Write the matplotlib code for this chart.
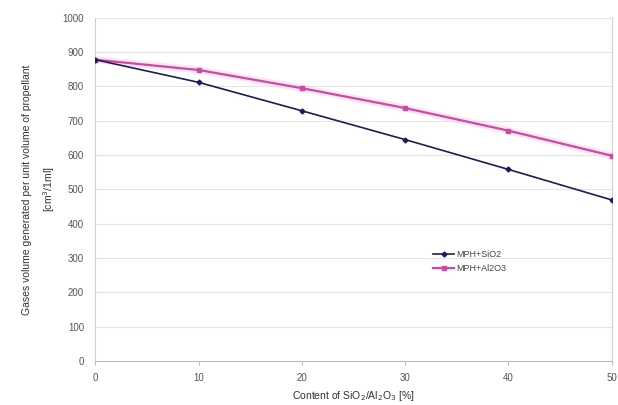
import matplotlib
matplotlib.use("Agg")
from matplotlib import pyplot as plt

content = [0, 10, 20, 30, 40, 50]
mph_sio2 = [878, 812, 729, 645, 558, 469]
mph_al2o3 = [878, 848, 795, 737, 671, 598]
y_ticks = list(range(0, 1001, 100))

plt.rcParams['font.family'] = ['Liberation Sans', 'DejaVu Sans']

fig = plt.figure(figsize=(6.18, 4.05), dpi=100)
ax = fig.add_axes([0.154, 0.109, 0.836, 0.847])

# pink line first, with a soft glow behind it
ax.plot(content, mph_al2o3, color='#f6c6ea', linewidth=5, alpha=0.45, zorder=2)
ax.plot(content, mph_al2o3, color='#cc4aa2', linewidth=1.6, marker='s',
        markersize=3.5, label='MPH+Al2O3', zorder=3)
ax.plot(content, mph_sio2, color='#1c1c5c', linewidth=1.2, marker='D',
        markersize=2.5, label='MPH+SiO2', zorder=4)

ax.set_xlim(0, 50)
ax.set_ylim(0, 1000)
ax.set_xticks(content)
ax.set_yticks(y_ticks)
ax.grid(axis='y', color='#e4e4e4', linewidth=0.8)
ax.set_axisbelow(True)

ax.spines['top'].set_visible(False)
ax.spines['left'].set_color('#d0d0d0')
ax.spines['right'].set_color('#d0d0d0')
ax.spines['bottom'].set_color('#bdbdbd')
ax.tick_params(colors='#bdbdbd', labelcolor='#555555', labelsize=7, length=3)
ax.tick_params(axis='y', length=0, pad=8)
ax.tick_params(axis='x', pad=6)

ax.set_xlabel('Content of SiO$_2$/Al$_2$O$_3$ [%]', fontsize=7.5, color='#333333', labelpad=4)
ax.set_ylabel('Gases volume generated per unit volume of propellant\n[cm$^3$/1ml]',
              fontsize=7.5, color='#333333', labelpad=4, linespacing=1.8)

handles, labels = ax.get_legend_handles_labels()
ax.legend(handles[::-1], labels[::-1], loc='center', bbox_to_anchor=(0.725, 0.289),
          frameon=False, fontsize=6.5, handlelength=2.3, labelspacing=0.6,
          handletextpad=0.2, labelcolor='#444444')

fig.savefig('out.png', dpi=100, facecolor='white')
